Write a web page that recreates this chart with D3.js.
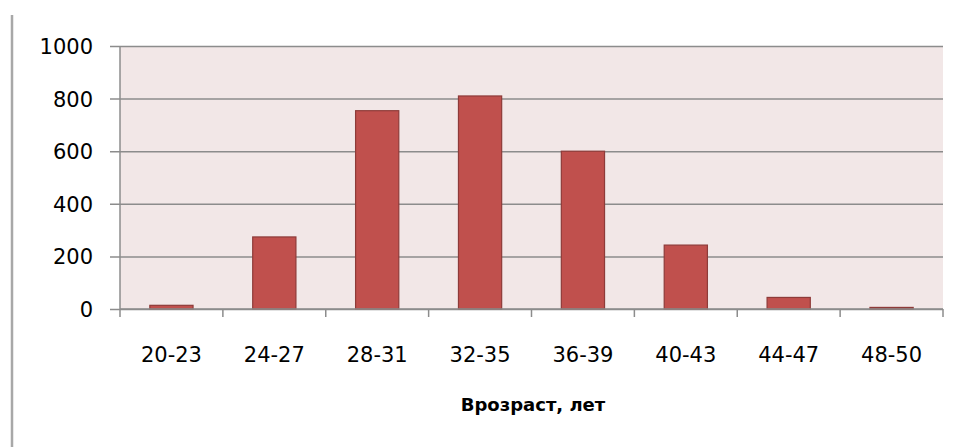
<!DOCTYPE html>
<html>
<head>
<meta charset="utf-8">
<script src="https://cdn.jsdelivr.net/npm/d3@7"></script>
<style>
  body { margin: 0; background: #fff; }
  text { font-family: "DejaVu Sans", Verdana, sans-serif; fill: #000; }
</style>
</head>
<body>
<script>
// chart data
const categories = ['20-23', '24-27', '28-31', '32-35', '36-39', '40-43', '44-47', '48-50'];
const counts = [14, 274, 754, 810, 600, 243, 44, 6];
const yTicks = [0, 200, 400, 600, 800, 1000];
const xTitle = 'Врозраст, лет';

const W = 960, H = 447;
const M = { top: 46, right: 17, bottom: 138, left: 120 };
const iw = W - M.left - M.right;
const ih = H - M.top - M.bottom;

const svg = d3.select('body').append('svg')
  .attr('width', W)
  .attr('height', H);

// left frame line
svg.append('line')
  .attr('x1', 12).attr('x2', 12)
  .attr('y1', 15).attr('y2', H)
  .attr('stroke', '#a8a8a8')
  .attr('stroke-width', 2.5);

const g = svg.append('g').attr('transform', `translate(${M.left},${M.top})`);

const x = d3.scaleBand().domain(categories).range([0, iw]).paddingInner(0.58).paddingOuter(0.29);
const y = d3.scaleLinear().domain([0, 1000]).range([ih, 0]);

g.append('rect')
  .attr('width', iw)
  .attr('height', ih)
  .attr('fill', '#f2e7e7');

// gridlines + y axis ticks
const yAxis = g.append('g')
  .call(d3.axisLeft(y).tickValues(yTicks).tickSize(10).tickPadding(17).tickFormat(d3.format('d')));
yAxis.select('.domain').remove();
yAxis.selectAll('.tick line')
  .attr('x2', iw)
  .attr('x1', -10)
  .attr('stroke', '#8c8c8c')
  .attr('stroke-width', 1.5);
yAxis.selectAll('.tick text')
  .attr('font-size', 21)
  .attr('dy', '0.36em')
  .attr('font-family', '"DejaVu Sans", Verdana, sans-serif');

g.append('line')
  .attr('x1', 0).attr('x2', 0)
  .attr('y1', 0).attr('y2', ih)
  .attr('stroke', '#8c8c8c')
  .attr('stroke-width', 1.5);

// bars
g.selectAll('rect.bar')
  .data(categories)
  .join('rect')
  .attr('class', 'bar')
  .attr('x', (d) => x(d))
  .attr('y', (d, i) => y(counts[i]))
  .attr('width', x.bandwidth())
  .attr('height', (d, i) => ih - y(counts[i]))
  .attr('fill', '#c0504d')
  .attr('stroke', '#8e3b39')
  .attr('stroke-width', 1.2);

// x axis
const xb = d3.scaleLinear().domain([0, categories.length]).range([0, iw]);
const xAxis = g.append('g').attr('transform', `translate(0,${ih})`);
xAxis.append('line')
  .attr('x1', 0).attr('x2', iw)
  .attr('stroke', '#8c8c8c')
  .attr('stroke-width', 1.5);
xAxis.selectAll('line.tick')
  .data(d3.range(categories.length + 1))
  .join('line')
  .attr('class', 'tick')
  .attr('x1', (d) => xb(d)).attr('x2', (d) => xb(d))
  .attr('y1', 0).attr('y2', 8)
  .attr('stroke', '#8c8c8c')
  .attr('stroke-width', 1.5);
xAxis.selectAll('text')
  .data(categories)
  .join('text')
  .attr('x', (d) => x(d) + x.bandwidth() / 2)
  .attr('y', 53)
  .attr('text-anchor', 'middle')
  .attr('font-size', 21)
  .text((d) => d);

svg.append('text')
  .attr('x', 533)
  .attr('y', 411)
  .attr('text-anchor', 'middle')
  .attr('font-size', 18)
  .attr('font-weight', 'bold')
  .text(xTitle);
</script>
</body>
</html>
